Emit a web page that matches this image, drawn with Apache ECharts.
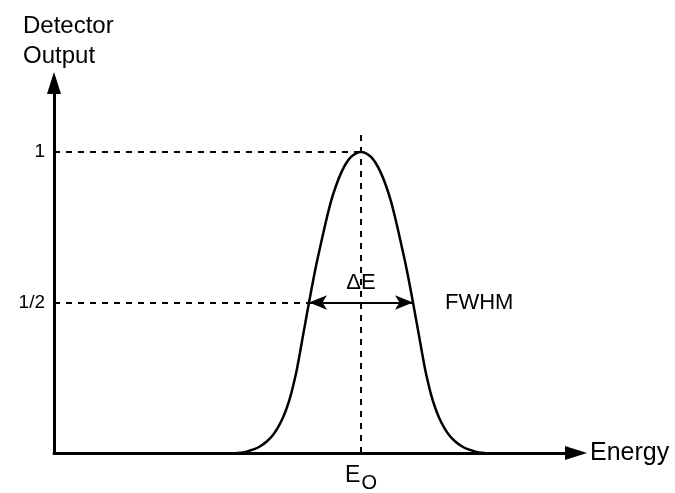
<!DOCTYPE html>
<html>
<head>
<meta charset="utf-8">
<script src="https://cdn.jsdelivr.net/npm/echarts@6/dist/echarts.min.js"></script>
<style>html,body{margin:0;padding:0;background:#fff}#c{width:675px;height:493px}</style>
</head>
<body>
<div id="c"></div>
<script>
// Curve (energy in arbitrary units, output normalised to the peak)
const energy = [183, 189, 195, 201, 207, 213, 219, 224, 229, 233, 237, 240, 243, 246, 249, 252, 255, 258, 261, 264, 267, 272, 277, 282, 287, 292, 297, 302, 307,
                312, 317, 322, 327, 332, 337, 342, 347, 350, 353, 356, 359, 362, 365, 368, 371, 374, 377, 381, 385, 390, 395, 401, 407, 413, 419, 425, 431];
const output = [0, 0.002, 0.007, 0.0135, 0.024, 0.039, 0.060, 0.085, 0.118, 0.152, 0.195, 0.235, 0.280, 0.334, 0.390, 0.445, 0.500, 0.553, 0.605, 0.652, 0.697, 0.770, 0.836, 0.888, 0.930, 0.962, 0.984, 0.996, 1,
                0.996, 0.984, 0.962, 0.930, 0.888, 0.836, 0.770, 0.697, 0.652, 0.605, 0.553, 0.500, 0.445, 0.390, 0.334, 0.280, 0.235, 0.195, 0.152, 0.118, 0.085, 0.060, 0.039, 0.024, 0.0135, 0.007, 0.002, 0];
// Annotations
const peakEnergy = 307;          // E0
const peakLevel = 1;
const halfLevel = 0.5;
const fwhmEdges = [255, 359];
const dashTop = 1.075;
const yTickValues = [0.5, 1];
const yTickLabels = ['1/2', '1'];
const xMax = 522, yMax = 1.2295;

const FONT = 'Liberation Sans, Arial, Helvetica, sans-serif';
const chart = echarts.init(document.getElementById('c'), null, {renderer: 'canvas'});
chart.setOption({
  animation: false,
  backgroundColor: '#fff',
  title: {
    text: 'Detector\nOutput', left: 18, top: 6,
    textStyle: {fontFamily: FONT, fontSize: 24, fontWeight: 'normal', color: '#000', lineHeight: 30}
  },
  grid: {left: 54, right: 99, top: 83, bottom: 35, containLabel: false},
  xAxis: {
    type: 'value', min: 0, max: xMax, interval: peakEnergy,
    name: 'Energy', nameLocation: 'end', nameGap: 14,
    nameTextStyle: {fontFamily: FONT, fontSize: 25, color: '#000'},
    axisLine: {show: true, symbol: ['none', 'triangle'], symbolSize: [14, 22], lineStyle: {color: '#000', width: 3}},
    axisTick: {show: false}, splitLine: {show: false},
    axisLabel: {
      margin: 6, color: '#000', fontFamily: FONT,
      formatter: v => (Math.abs(v - peakEnergy) < 1e-6 ? '{e|E}{s|O}' : ''),
      rich: {e: {fontSize: 23, fontFamily: FONT, color: '#000'},
             s: {fontSize: 20, fontFamily: FONT, color: '#000', padding: [14, 0, 0, 1]}}
    }
  },
  yAxis: {
    type: 'value', min: 0, max: yMax, interval: 0.5,
    axisLine: {show: true, symbol: ['none', 'triangle'], symbolSize: [14, 22], lineStyle: {color: '#000', width: 3}},
    axisTick: {show: false}, splitLine: {show: false},
    axisLabel: {
      margin: 9, color: '#000', fontFamily: FONT, fontSize: 19,
      formatter: v => { const i = yTickValues.findIndex(t => Math.abs(t - v) < 1e-6); return i >= 0 ? yTickLabels[i] : ''; }
    }
  },
  series: [
    {
      type: 'line', data: energy.map((e, i) => [e, output[i]]),
      smooth: 0.3, symbol: 'none', lineStyle: {color: '#000', width: 2.5}, z: 3,
      markLine: {
        silent: true, animation: false, symbol: 'none',
        lineStyle: {color: '#000', width: 2, type: [6, 6]},
        label: {show: false},
        data: [
          [{coord: [0, peakLevel]}, {coord: [peakEnergy, peakLevel]}],
          [{coord: [0, halfLevel]}, {coord: [fwhmEdges[0], halfLevel]}],
          [{coord: [peakEnergy, 0]}, {coord: [peakEnergy, dashTop]}],
          [{coord: [fwhmEdges[0], halfLevel], symbol: 'arrow', symbolSize: [11, 18],
            lineStyle: {type: 'solid', width: 2}},
           {coord: [fwhmEdges[1], halfLevel], symbol: 'arrow', symbolSize: [11, 18],
            label: {show: true, position: 'end', distance: 32, formatter: 'FWHM',
                    fontFamily: FONT, fontSize: 22, color: '#000'}}],
          [{coord: [fwhmEdges[0], halfLevel], lineStyle: {width: 0, color: 'rgba(0,0,0,0)', type: 'solid'}},
           {coord: [fwhmEdges[1], halfLevel],
            label: {show: true, position: 'insideMiddleTop', distance: 9, formatter: 'ΔE',
                    fontFamily: FONT, fontSize: 22, color: '#000'}}]
        ]
      }
    }
  ]
});
</script>
</body>
</html>
